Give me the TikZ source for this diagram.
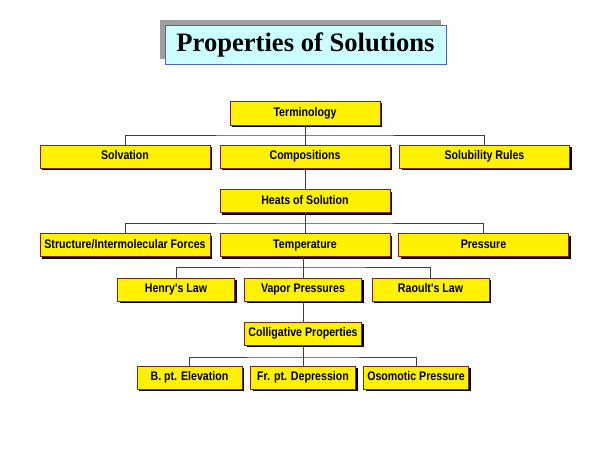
\documentclass[tikz,border=0pt]{standalone}
\usepackage{fontspec}
\setmainfont{Liberation Sans}
\newfontfamily\boxfont[FakeStretch=0.85]{Liberation Sans}
\newfontfamily\titlefont{Liberation Serif}
\usetikzlibrary{shadows}
\definecolor{boxborder}{HTML}{7A2A10}
\definecolor{titleborder}{HTML}{5060C8}
\definecolor{titlefill}{HTML}{CCFFFF}
\definecolor{linecol}{HTML}{404040}
\begin{document}
\begin{tikzpicture}[x=1pt,y=-1pt,
  box/.style={draw=boxborder, line width=0.8pt, fill=yellow, inner sep=0pt,
    minimum height=23pt, text height=9pt, text depth=2.6pt,
    font=\boxfont\fontsize{12.5}{14}\selectfont\bfseries,
    drop shadow={shadow xshift=2pt, shadow yshift=-2pt, fill=black, opacity=1}},
  wide/.style={box, minimum width=170pt},
  mid/.style={box, minimum width=117pt},
  small/.style={box, minimum width=105pt},
  conn/.style={draw=linecol, line width=0.7pt}]
\useasboundingbox (0,0) rectangle (600,450);
% title
\node[draw=titleborder, line width=0.9pt, fill=titlefill, inner sep=0pt,
  minimum width=281pt, minimum height=39pt,
  font=\titlefont\fontsize{26.6}{28}\selectfont\bfseries,
  drop shadow={shadow xshift=-5pt, shadow yshift=5pt, fill=gray!75, opacity=1}]
  (title) at (305.5,44.5) {Properties of Solutions};
% row 1
\node[box, minimum width=150pt, minimum height=24pt] (term) at (305,113) {Terminology};
% row 2
\node[wide] (solv) at (125,156.5) {Solvation};
\node[wide] (comp) at (305,156.5) {Compositions};
\node[wide] (solu) at (484.5,156.5) {Solubility Rules};
% row 3
\node[wide] (heat) at (305,201) {Heats of Solution};
% row 4
\node[wide] (stru) at (125,245) {Structure/Intermolecular Forces};
\node[wide] (temp) at (305,245) {Temperature};
\node[wide] (pres) at (483.5,245) {Pressure};
% row 5
\node[mid] (henr) at (176,289.5) {Henry's Law};
\node[mid] (vapo) at (303,289.5) {Vapor Pressures};
\node[mid] (raou) at (430.5,289.5) {Raoult's Law};
% row 6
\node[mid] (coll) at (303,333.5) {Colligative Properties};
% row 7
\node[small] (bpt) at (189.5,377.5) {B. pt. Elevation};
\node[small] (frpt) at (303,377.5) {Fr. pt. Depression};
\node[small] (osmo) at (416,377.5) {Osomotic Pressure};
% junction coordinates
\coordinate (j1) at (305,135);
\coordinate (j2) at (305,223);
\coordinate (j3) at (303,267);
\coordinate (j4) at (303,357);
% connectors
\draw[conn] (term.south) -- (j1);
\draw[conn] (solv.north) |- (j1) -| (solu.north);
\draw[conn] (j1) -- (comp.north);
\draw[conn] (comp.south) -- (heat.north);
\draw[conn] (heat.south) -- (j2);
\draw[conn] (stru.north) |- (j2) -| (pres.north);
\draw[conn] (j2) -- (temp.north);
\draw[conn] (temp.south -| j3) -- (j3);
\draw[conn] (henr.north) |- (j3) -| (raou.north);
\draw[conn] (j3) -- (vapo.north);
\draw[conn] (vapo.south) -- (coll.north);
\draw[conn] (coll.south) -- (j4);
\draw[conn] (bpt.north) |- (j4) -| (osmo.north);
\draw[conn] (j4) -- (frpt.north);
\end{tikzpicture}
\end{document}
